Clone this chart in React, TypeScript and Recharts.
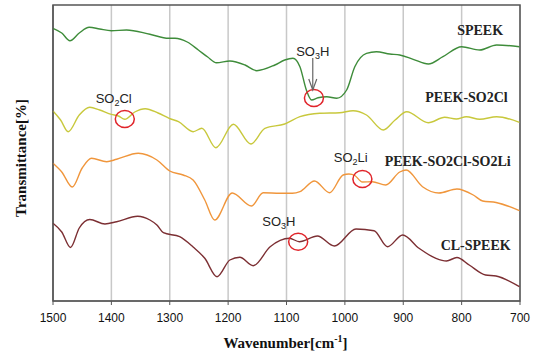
import React from 'react';
import { LineChart, Line, XAxis, YAxis, CartesianGrid, ReferenceDot, ReferenceArea } from 'recharts';

// Wavenumbers (cm^-1) and relative transmittance (arbitrary, offset spectra)
const speekX = [1500,1485,1471,1455,1438,1420,1400,1374,1334,1302,1291,1270,1251,1235,1220,1197,1171,1151,1120,1103,1089,1077,1066,1057,1046,1031,1014,997,983,963,946,923,906,883,857,832,800,769,740,701];
const speekY = [272.7,268,260.3,268,273.7,272,270.3,271,266.7,262.7,262.7,259,251,244,238.3,240,236,230.3,236,241,242.7,234.3,211,201,203.3,204.3,202.7,211,234.3,247.7,249.3,247,246,241.7,237,244.3,254.3,251,256,254.3];

const clX = [1500,1487,1474,1455,1437,1420,1400,1388,1377,1360,1342,1320,1301,1285,1260,1245,1221,1191,1161,1137,1103,1077,1043,1009,986,963,934,914,894,857,829,809,792,769,740,701];
const clY = [190,181,169.3,186,193.7,191,186.7,185,181.7,189,192.3,188,182.7,179.3,169.3,172.7,153.3,176.7,157,172.7,177,184.3,187.7,188.3,190.3,186,171,181,189.3,178.3,183.7,182,184.3,181.7,184.3,178.7];

const liX = [1500,1485,1467,1450,1434,1408,1391,1354,1322,1300,1277,1260,1240,1223,1193,1160,1140,1111,1090,1077,1052,1026,1003,993,983,970,953,930,906,895,867,839,808,780,764,741,701];
const liY = [137.7,129,114,133,142.7,139.3,141.7,147.7,141,130,126,121,101,81,108,95,108.3,107.7,107.7,109.3,120,108.3,126,127,125.5,119,119.3,116,129,131,114.3,108,112,106,100,98.5,90.3];

const clspeekX = [1500,1485,1470,1455,1437,1411,1391,1355,1334,1322,1311,1283,1260,1240,1219,1197,1180,1157,1128,1095,1078,1047,1018,981,950,927,901,873,844,826,808,787,759,741,701];
const clspeekY = [77.7,69,53.5,73,81.5,77,79.3,84.7,81,76,68.3,64.3,54,42.7,24.3,41,43.7,35.3,54.3,62.7,59.3,65,55,72,70.3,54.3,66,52.7,42.7,40,43.5,36,26,25,14.3];

const xTicks = [1500, 1400, 1300, 1200, 1100, 1000, 900, 800, 700];

const seriesNames = ['SPEEK', 'PEEK-SO2Cl', 'PEEK-SO2Cl-SO2Li', 'CL-SPEEK'];
const seriesColors = ['#3e8c3a', '#c8c83c', '#f0963c', '#7c2f33'];

const build = (xs: number[], ys: number[]) => xs.map((w, i) => ({ w, t: ys[i] }));
const seriesData = [build(speekX, speekY), build(clX, clY), build(liX, liY), build(clspeekX, clspeekY)];

// label anchors (wavenumber, transmittance)
const seriesLabelPos = [[729, 266.5], [721, 199.5], [716, 135.5], [716, 51.5]];
const circles = [[1053, 203], [1377, 182], [970, 122], [1080, 59.3]];

const serif = '"Liberation Serif", "Times New Roman", serif';
const sans = '"Liberation Sans", Arial, sans-serif';

const ChemLabel = (main: string, sub: string, rest: string) => (props: any) => (
  <text x={props.cx} y={props.cy} textAnchor="middle" fontFamily={sans} fontSize={13} fill="#222">
    {main}
    <tspan fontSize={9} dy={3}>{sub}</tspan>
    <tspan dy={-3}>{rest}</tspan>
  </text>
);

const Ellipse = (props: any) => (
  <ellipse cx={props.cx} cy={props.cy} rx={9.5} ry={8.5} fill="none" stroke="#e0242a" strokeWidth={1.5} />
);

const Arrow = (props: any) => (
  <g stroke="#666" strokeWidth={1.2} fill="none">
    <line x1={props.cx} y1={props.cy - 32} x2={props.cx} y2={props.cy} />
    <polyline points={`${props.cx - 4},${props.cy - 11} ${props.cx},${props.cy} ${props.cx + 4},${props.cy - 11}`} />
  </g>
);

const SeriesLabel = (name: string) => (props: any) => (
  <text x={props.cx} y={props.cy} textAnchor="end" fontFamily={serif} fontWeight="bold" fontSize={14} fill="#222">
    {name}
  </text>
);

const XLabel = (props: any) => {
  const vb = props.viewBox || {};
  const cx = vb.x + vb.width / 2;
  return (
    <text x={cx - 1} y={348} textAnchor="middle" fontFamily={serif} fontWeight="bold" fontSize={15} fill="#111">
      Wavenumber[cm
      <tspan fontSize={10} dy={-6}>-1</tspan>
      <tspan dy={6}>]</tspan>
    </text>
  );
};

const YLabel = (props: any) => {
  const vb = props.viewBox || {};
  const cy = vb.y + vb.height / 2 + 5;
  return (
    <text x={21} y={cy} transform={`rotate(-90, 21, ${cy})`} textAnchor="middle" dominantBaseline="central"
      fontFamily={serif} fontWeight="bold" fontSize={15} fill="#111">
      Transmittance[%]
    </text>
  );
};

export default function App() {
  return (
    <div style={{ position: 'absolute', left: 0, top: 0, width: 536, height: 353, background: '#fff' }}>
      <LineChart width={536} height={353} margin={{ top: 5, right: 16, bottom: 22, left: 0 }}>
        <CartesianGrid horizontal={false} stroke="#c8c8c8" strokeWidth={1.5} />
        <XAxis
          dataKey="w"
          type="number"
          domain={[700, 1500]}
          ticks={xTicks}
          reversed
          allowDuplicatedCategory={false}
          height={30}
          tickSize={4}
          tickMargin={8}
          stroke="#555"
          tick={{ fontSize: 12, fontFamily: sans, fill: '#111' }}
          label={<XLabel />}
        />
        <YAxis
          type="number"
          domain={[0, 296]}
          width={53}
          tick={false}
          tickLine={false}
          stroke="#555"
          label={<YLabel />}
        />
        <ReferenceArea x1={1500} x2={700} y1={0} y2={296} fill="none" stroke="#555" strokeWidth={1.5} />
        {seriesData.map((d, i) => (
          <Line
            key={seriesNames[i]}
            data={d}
            dataKey="t"
            type="monotone"
            stroke={seriesColors[i]}
            strokeWidth={1.4}
            dot={false}
            isAnimationActive={false}
          />
        ))}
        {seriesNames.map((n, i) => (
          <ReferenceDot key={'l' + n} x={seriesLabelPos[i][0]} y={seriesLabelPos[i][1]} shape={SeriesLabel(n)} />
        ))}
        {circles.map((c, i) => (
          <ReferenceDot key={'c' + i} x={c[0]} y={c[1]} shape={Ellipse} />
        ))}
        <ReferenceDot x={1055} y={211} shape={Arrow} />
        <ReferenceDot x={1055} y={245} shape={ChemLabel('SO', '3', 'H')} />
        <ReferenceDot x={1396} y={198} shape={ChemLabel('SO', '2', 'Cl')} />
        <ReferenceDot x={990} y={139.5} shape={ChemLabel('SO', '2', 'Li')} />
        <ReferenceDot x={1113} y={75} shape={ChemLabel('SO', '3', 'H')} />
      </LineChart>
    </div>
  );
}
